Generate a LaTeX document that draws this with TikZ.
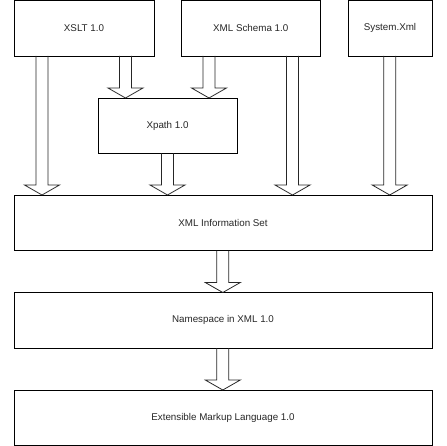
\documentclass[tikz,border=0pt]{standalone}
\usepackage{fontspec}
\setmainfont{Liberation Sans}
\usetikzlibrary{calc}
\tikzset{
  box/.style={draw=black, line width=0.9pt, rectangle, outer sep=0pt, inner sep=0pt,
    minimum height=55.5pt, font=\fontsize{9.8}{11}\selectfont, text=black!85},
  blk/.style={draw=black!85, line width=0.8pt, line join=miter}
}
\newcommand\blockarr[3]{%
  \draw[blk] let \p1=(#1.south), \p2=(#2.north) in
    (#3pt-6pt,\y1) -- (#3pt-6pt,\y2+10pt) -- (#3pt-17.5pt,\y2+10pt) -- (#3pt,\y2)
    -- (#3pt+17.5pt,\y2+10pt) -- (#3pt+6pt,\y2+10pt) -- (#3pt+6pt,\y1);}
\begin{document}
\begin{tikzpicture}[x=1pt,y=-1pt]
  \useasboundingbox (0,0) rectangle (446,446);
  \node[box, minimum width=140pt] (xslt) at (84,28.25) {XSLT 1.0};
  \node[box, minimum width=139.5pt] (schema) at (250.75,28.25) {XML Schema 1.0};
  \node[box, minimum width=84pt] (sysxml) at (390,28.25) {System.Xml};
  \node[box, minimum width=139pt] (xpath) at (167.5,125.75) {Xpath 1.0};
  \node[box, minimum width=418pt] (infoset) at (223,222.75) {XML Information Set};
  \node[box, minimum width=418pt] (ns) at (223,320.25) {Namespace in XML 1.0};
  \node[box, minimum width=418pt] (ext) at (223,417.75) {Extensible Markup Language 1.0};
  \blockarr{xslt}{infoset}{42}
  \blockarr{xslt}{xpath}{125.5}
  \blockarr{schema}{xpath}{209}
  \blockarr{xpath}{infoset}{167.5}
  \blockarr{schema}{infoset}{292.5}
  \blockarr{sysxml}{infoset}{389.7}
  \blockarr{infoset}{ns}{222.8}
  \blockarr{ns}{ext}{222.8}
\end{tikzpicture}
\end{document}
